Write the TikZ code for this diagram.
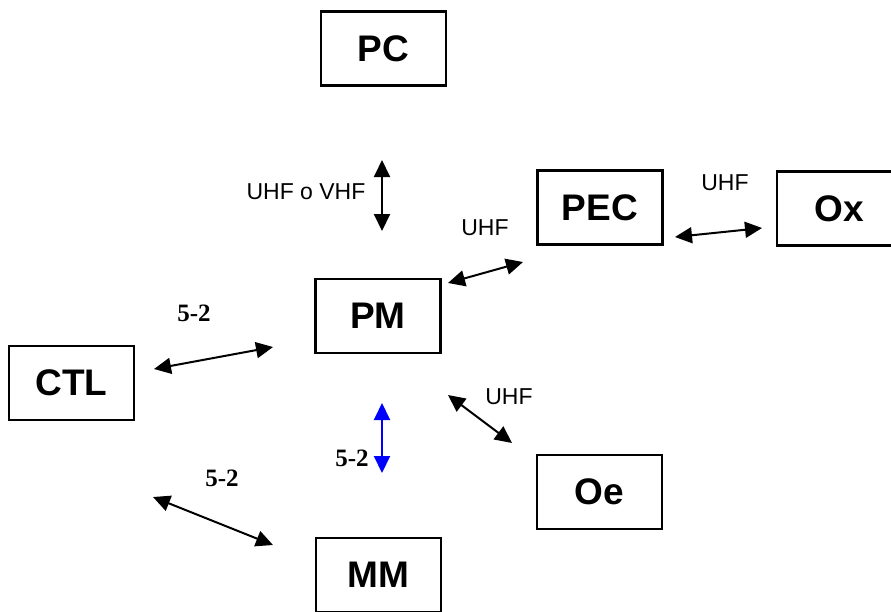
\documentclass[tikz,border=0pt]{standalone}
\usepackage{fontspec}
\setmainfont{Liberation Serif}
\setsansfont{Liberation Sans}
\usepackage{tikz}
\usepackage{xcolor}
\usetikzlibrary{arrows.meta}

\begin{document}
\begin{tikzpicture}[x=1pt,y=-1pt,
            box/.style={draw=black,line width=2.2pt,minimum width=125pt,minimum height=74pt,inner sep=0pt,
                font=\sffamily\bfseries\fontsize{37}{40}\selectfont},
            band/.style={inner sep=0pt,font=\sffamily\fontsize{23}{26}\selectfont},
            num/.style={inner sep=0pt,font=\rmfamily\bfseries\fontsize{25}{28}\selectfont},
            link/.style={line width=2pt,{Triangle[length=17pt,width=16pt]}-{Triangle[length=17pt,width=16pt]}}]
            \useasboundingbox (0,0) rectangle (891,611);
            % boxes
            \node[box] (pc) at (383.5,48.5) {PC};
            \node[box] (pm) at (378,316) {PM};
            \node[box] (pec) at (600,207.5) {PEC};
            \node[box] (ox) at (839.5,208.5) {Ox};
            \node[box] (ctl) at (71.5,383) {CTL};
            \node[box] (oe) at (599.5,492) {Oe};
            \node[box] (mm) at (378.5,575) {MM};
            % arrow ends
            \coordinate (pc-s) at (382,160);
            \coordinate (pm-n) at (382,231);
            \coordinate (pm-ne) at (448,283);
            \coordinate (pec-sw) at (523,262);
            \coordinate (pec-e) at (675,237);
            \coordinate (ox-w) at (762,228);
            \coordinate (ctl-ne) at (154,369);
            \coordinate (pm-w) at (273,347);
            \coordinate (pm-se) at (448,395);
            \coordinate (oe-nw) at (512,443);
            \coordinate (pm-s) at (382,403);
            \coordinate (mm-n) at (382,473);
            \coordinate (ctl-se) at (153,497);
            \coordinate (mm-w) at (273,545);
            % links
            \draw[link] (pc-s) -- (pm-n);
            \draw[link] (pm-ne) -- (pec-sw);
            \draw[link] (pec-e) -- (ox-w);
            \draw[link] (ctl-ne) -- (pm-w);
            \draw[link] (pm-se) -- (oe-nw);
            \draw[link,blue] (pm-s) -- (mm-n);
            \draw[link] (ctl-se) -- (mm-w);
            % labels
            \node[band] (l-pc) at (306,192) {UHF o VHF};
            \node[band] (l-pec) at (485,228) {UHF};
            \node[band] (l-ox) at (725,183) {UHF};
            \node[band] (l-oe) at (509,397) {UHF};
            \node[num] (l-ctl) at (194,313) {5-2};
            \node[num] (l-mm) at (352,458) {5-2};
            \node[num] (l-ctlmm) at (222,478) {5-2};
\end{tikzpicture}
\end{document}
